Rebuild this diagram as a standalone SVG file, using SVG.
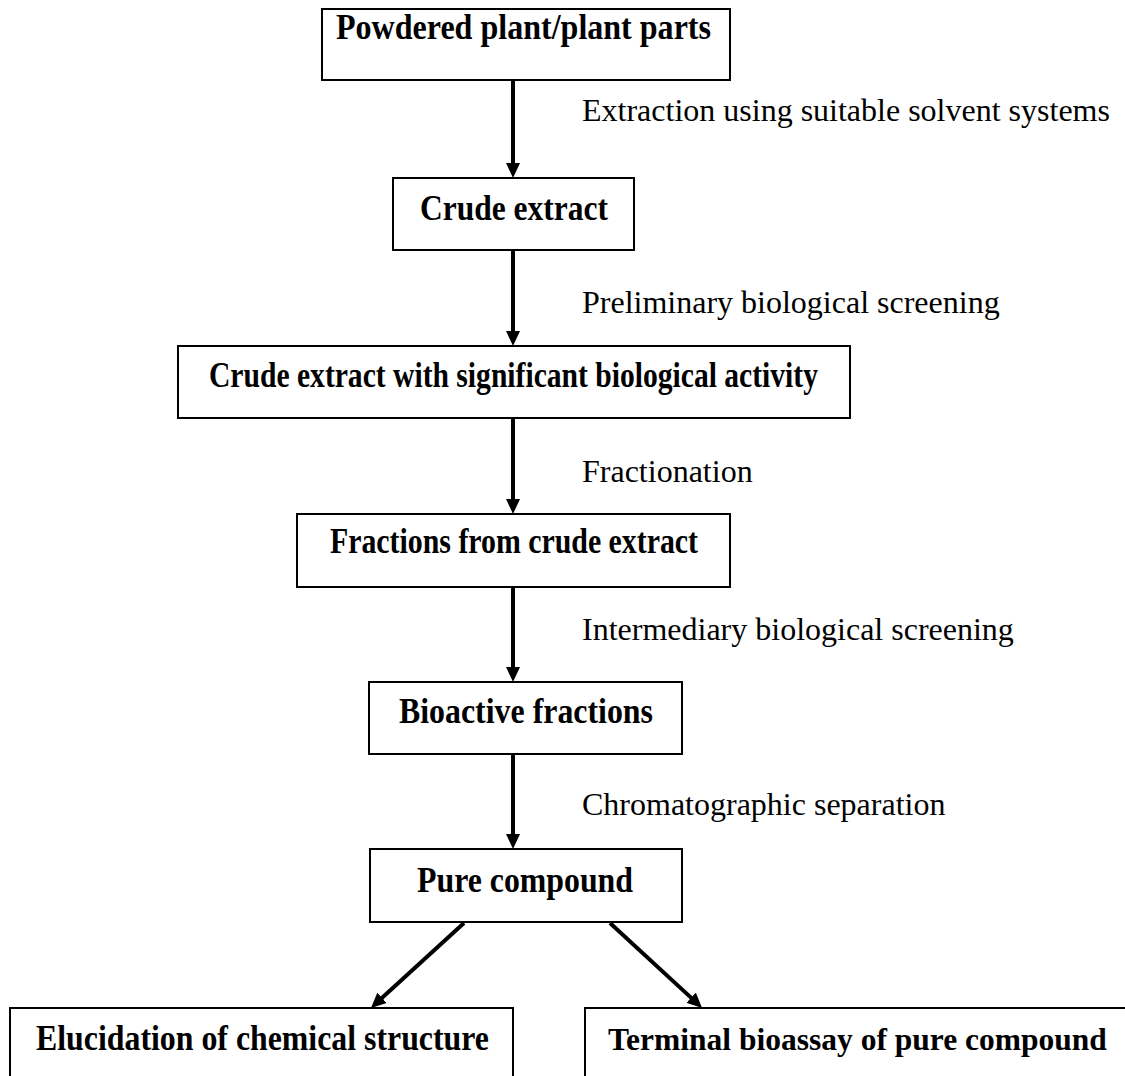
<svg xmlns="http://www.w3.org/2000/svg" width="1125" height="1076" viewBox="0 0 1125 1076">
<style>
.box{fill:#fff;stroke:#000;stroke-width:2}
.bt{font-family:"Liberation Serif","Times New Roman",serif;font-weight:bold;font-size:35px;fill:#000}
.lt{font-family:"Liberation Serif","Times New Roman",serif;font-size:32px;fill:#000}
.arr{stroke:#000;stroke-width:4;fill:none;marker-end:url(#ah)}
</style>
<defs>
<marker id="ah" markerUnits="userSpaceOnUse" markerWidth="16" markerHeight="14" refX="1" refY="7" orient="auto">
<path d="M0,0 L15,7 L0,14 z" fill="#000"/>
</marker>
</defs>
<rect width="1125" height="1076" fill="#fff"/>
<g id="connectors">
<line class="arr" x1="513" y1="81" x2="513" y2="164"/>
<line class="arr" x1="513" y1="251" x2="513" y2="332"/>
<line class="arr" x1="513" y1="419" x2="513" y2="500"/>
<line class="arr" x1="513" y1="588" x2="513" y2="668"/>
<line class="arr" x1="513" y1="755" x2="513" y2="835"/>
<line class="arr" x1="464" y1="923" x2="381.3" y2="998.5"/>
<line class="arr" x1="610" y1="923" x2="691.8" y2="998.4"/>
</g>
<g id="labels">
<text class="lt" x="582" y="121">Extraction using suitable solvent systems</text>
<text class="lt" x="582" y="313">Preliminary biological screening</text>
<text class="lt" x="582" y="482">Fractionation</text>
<text class="lt" x="582" y="640">Intermediary biological screening</text>
<text class="lt" x="582" y="815">Chromatographic separation</text>
</g>
<g id="n1"><rect class="box" x="322" y="9" width="408" height="71"/><text class="bt" x="336" y="39" textLength="375" lengthAdjust="spacingAndGlyphs">Powdered plant/plant parts</text></g>
<g id="n2"><rect class="box" x="393" y="178" width="241" height="72"/><text class="bt" x="420" y="220" textLength="188" lengthAdjust="spacingAndGlyphs">Crude extract</text></g>
<g id="n3"><rect class="box" x="178" y="346" width="672" height="72"/><text class="bt" x="209" y="387" textLength="609" lengthAdjust="spacingAndGlyphs">Crude extract with significant biological activity</text></g>
<g id="n4"><rect class="box" x="297" y="514" width="433" height="73"/><text class="bt" x="330" y="553" textLength="368" lengthAdjust="spacingAndGlyphs">Fractions from crude extract</text></g>
<g id="n5"><rect class="box" x="369" y="682" width="313" height="72"/><text class="bt" x="399" y="723" textLength="254" lengthAdjust="spacingAndGlyphs">Bioactive fractions</text></g>
<g id="n6"><rect class="box" x="370" y="849" width="312" height="73"/><text class="bt" x="417" y="892" textLength="216" lengthAdjust="spacingAndGlyphs">Pure compound</text></g>
<g id="n7"><rect class="box" x="10" y="1008" width="503" height="90"/><text class="bt" x="36" y="1050" textLength="453" lengthAdjust="spacingAndGlyphs">Elucidation of chemical structure</text></g>
<g id="n8"><rect class="box" x="585" y="1008" width="560" height="90"/><text class="bt" x="608" y="1050" style="font-size:31.5px">Terminal bioassay of pure compound</text></g>
</svg>
